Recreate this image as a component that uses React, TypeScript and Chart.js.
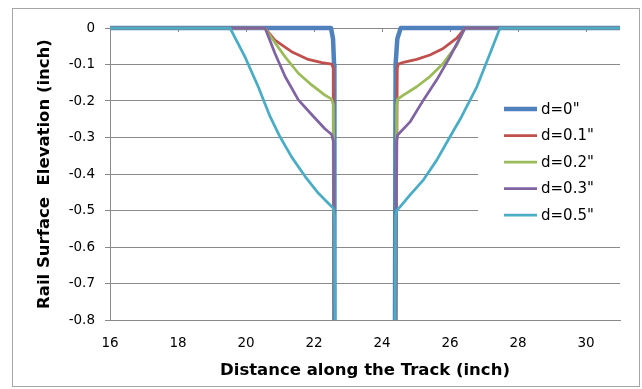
import React, { useEffect, useRef } from "react";
import { Chart, registerables } from "chart.js";

Chart.register(...registerables);

// ---- data ----
const seriesNames = ['d=0"', 'd=0.1"', 'd=0.2"', 'd=0.3"', 'd=0.5"'];
const seriesColors = ["#4F81BD", "#C0504D", "#9BBB59", "#8064A2", "#4BACC6"];
const seriesWidths = [4.5, 2.75, 2.75, 2.75, 2.75];

const d0X = [16, 22.5, 22.56, 22.59, 22.6, 23.5, 24.38, 24.4, 24.45, 24.55, 31];
const d0Y = [0, 0, -0.03, -0.1, -0.9, null, -0.9, -0.1, -0.03, 0, 0];

const d1X = [16, 20.56, 20.85, 21.34, 21.83, 22.23, 22.52, 22.57, 22.6, 23.5, 24.4, 24.45, 24.48, 24.63, 25.02, 25.41, 25.8, 26.2, 26.44, 31];
const d1Y = [0, 0, -0.033, -0.065, -0.086, -0.095, -0.099, -0.11, -0.9, null, -0.9, -0.11, -0.099, -0.094, -0.086, -0.074, -0.056, -0.028, 0, 0];

const d2X = [16, 20.56, 20.66, 21.15, 21.54, 21.93, 22.32, 22.52, 22.57, 22.6, 23.5, 24.41, 24.43, 24.46, 24.63, 25.02, 25.41, 25.8, 26.2, 26.44, 31];
const d2Y = [0, 0, -0.015, -0.079, -0.124, -0.156, -0.184, -0.195, -0.21, -0.9, null, -0.9, -0.21, -0.195, -0.184, -0.161, -0.133, -0.097, -0.047, 0, 0];

const d3X = [16, 20.56, 20.85, 21.15, 21.54, 21.93, 22.32, 22.52, 22.57, 22.6, 23.5, 24.41, 24.43, 24.46, 24.82, 25.22, 25.61, 26.0, 26.44, 31];
const d3Y = [0, 0, -0.069, -0.133, -0.197, -0.237, -0.276, -0.292, -0.31, -0.9, null, -0.9, -0.31, -0.293, -0.258, -0.197, -0.142, -0.079, 0, 0];

const d5X = [16, 19.53, 19.97, 20.36, 20.71, 21.0, 21.34, 21.74, 22.13, 22.42, 22.57, 22.6, 22.62, 23.5, 24.38, 24.4, 24.43, 24.53, 24.82, 25.22, 25.61, 26.0, 26.34, 26.79, 27.18, 27.47, 31];
const d5Y = [0, 0, -0.079, -0.161, -0.243, -0.298, -0.353, -0.407, -0.453, -0.48, -0.494, -0.52, -0.9, null, -0.9, -0.52, -0.5, -0.49, -0.458, -0.416, -0.362, -0.298, -0.243, -0.161, -0.069, 0, 0];

const seriesX = [d0X, d1X, d2X, d3X, d5X];
const seriesY = [d0Y, d1Y, d2Y, d3Y, d5Y];

const xTicks = [16, 18, 20, 22, 24, 26, 28, 30];
const yTicks = [0, -0.1, -0.2, -0.3, -0.4, -0.5, -0.6, -0.7, -0.8];

const xTitle = "Distance along the Track (inch)";
const yTitle = "Rail Surface  Elevation (inch)";

const FONT = "'DejaVu Sans', sans-serif";
const GRID = "#8a8a8a";

const decor = {
  id: "decor",
  beforeDatasetsDraw(chart: any) {
    const { ctx, chartArea: a, scales } = chart;
    ctx.save();
    ctx.strokeStyle = GRID;
    ctx.lineWidth = 1;
    xTicks.forEach((v) => {
      const x = Math.round(scales.x.getPixelForValue(v)) + 0.5;
      ctx.beginPath();
      ctx.moveTo(x, a.top);
      ctx.lineTo(x, a.top + 4);
      ctx.stroke();
    });
    // legend
    ctx.fillStyle = "#fff";
    ctx.fillRect(478, 86, a.right - 478, 146);
    ctx.font = "15px " + FONT;
    ctx.textBaseline = "middle";
    ctx.textAlign = "left";
    seriesNames.forEach((name, i) => {
      const y = 109 + i * 26.5;
      ctx.strokeStyle = seriesColors[i];
      ctx.lineWidth = seriesWidths[i];
      ctx.lineCap = "butt";
      ctx.beginPath();
      ctx.moveTo(504, y);
      ctx.lineTo(537, y);
      ctx.stroke();
      ctx.fillStyle = "#000";
      ctx.fillText(name, 541, y + 1);
    });
    ctx.restore();
  },
  afterDraw(chart: any) {
    const { ctx } = chart;
    ctx.save();
    ctx.strokeStyle = "#a6a6a6";
    ctx.lineWidth = 1;
    ctx.strokeRect(12.5, 8.5, 627, 378);
    ctx.restore();
  },
};

export default function App() {
  const ref = useRef<HTMLCanvasElement | null>(null);
  useEffect(() => {
    if (!ref.current) return;
    const datasets = seriesNames.map((name, i) => ({
      label: name,
      data: seriesX[i].map((x, j) => ({ x, y: seriesY[i][j] })),
      borderColor: seriesColors[i],
      backgroundColor: seriesColors[i],
      borderWidth: seriesWidths[i],
      pointRadius: 0,
      tension: 0,
      fill: false,
      spanGaps: false,
      borderJoinStyle: "round" as const,
      borderCapStyle: "butt" as const,
      order: 5 - i,
      clip: { left: 0, top: 5, right: 0, bottom: 0 },
    }));
    const chart = new Chart(ref.current, {
      type: "line",
      data: { datasets },
      options: {
        responsive: false,
        animation: false,
        events: [],
        layout: { padding: { left: 12, right: 22, top: 28, bottom: 0 } },
        plugins: { legend: { display: false }, tooltip: { enabled: false } },
        scales: {
          x: {
            type: "linear",
            min: 16,
            max: 31,
            afterBuildTicks: (s: any) => {
              s.ticks = xTicks.map((v) => ({ value: v }));
            },
            afterFit: (s: any) => {
              s.height = 69;
            },
            grid: { drawOnChartArea: false, drawTicks: false },
            border: { display: true, color: GRID },
            ticks: {
              autoSkip: false,
              maxRotation: 0,
              padding: 15,
              color: "#000",
              font: { family: FONT, size: 13.5 },
              callback: (v: any) => String(v),
            },
            title: {
              display: true,
              text: xTitle,
              color: "#000",
              font: { family: FONT, size: 16.5, weight: "bold" },
              padding: { top: 0, bottom: 8 },
            },
          },
          y: {
            type: "linear",
            min: -0.8,
            max: 0,
            afterBuildTicks: (s: any) => {
              s.ticks = yTicks.map((v) => ({ value: v }));
            },
            afterFit: (s: any) => {
              s.width = 98;
            },
            grid: { color: GRID, lineWidth: 1, drawTicks: true, tickLength: 5, tickColor: GRID },
            border: { display: true, color: GRID },
            ticks: {
              padding: 10,
              color: "#000",
              font: { family: FONT, size: 13.5 },
              callback: (v: any) => (v === 0 ? "0" : Number(v).toFixed(1)),
            },
            title: {
              display: true,
              text: yTitle,
              color: "#000",
              font: { family: FONT, size: 16.5, weight: "bold" },
              padding: { top: 23, bottom: 0 },
            },
          },
        },
      },
      plugins: [decor],
    });
    return () => chart.destroy();
  }, []);
  return (
    <div style={{ position: "fixed", left: 0, top: 0, width: 642, height: 389, background: "#fff" }}>
      <canvas ref={ref} width={642} height={389} style={{ display: "block" }} />
    </div>
  );
}
